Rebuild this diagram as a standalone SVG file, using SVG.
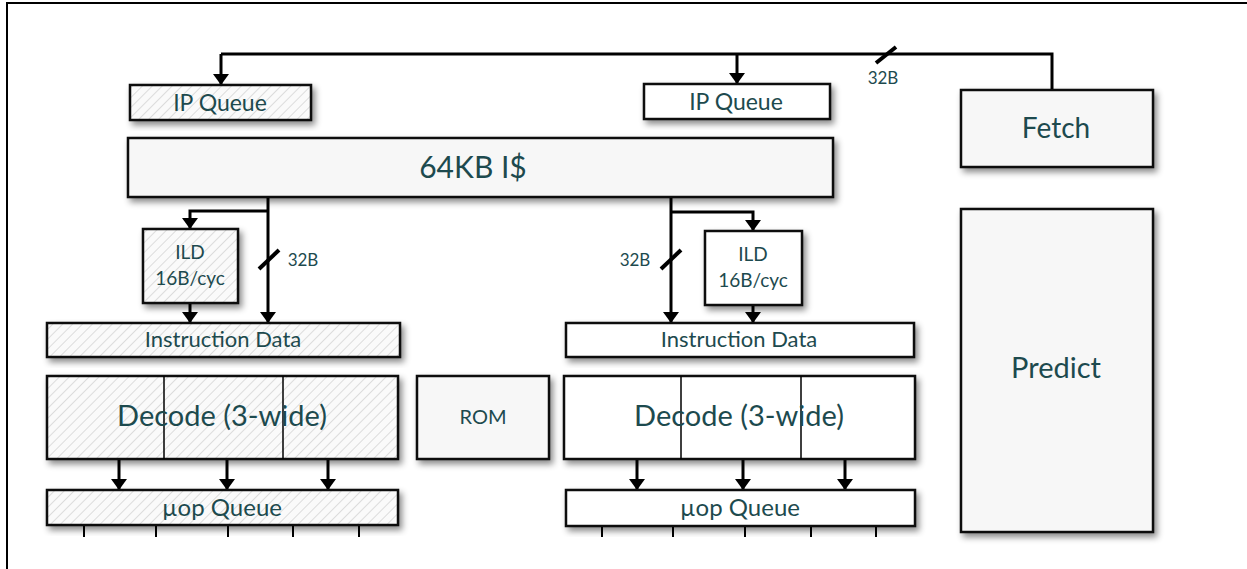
<svg xmlns="http://www.w3.org/2000/svg" width="1247" height="569" viewBox="0 0 1247 569">
<defs>
<style>
.box{stroke:#111;stroke-width:2.5;filter:url(#sh)}
.hatch{fill:url(#hp)}
.grey{fill:#f7f7f7}
.white{fill:#fff}
.t{font-family:Lato,"Open Sans",sans-serif;fill:#1d4a4e;text-anchor:middle}
.c{fill:none;stroke:#000;stroke-width:3}
.sl{fill:none;stroke:#000;stroke-width:4}
.ar{fill:none;stroke:#000;stroke-width:3;marker-end:url(#ah)}
.thin{fill:none;stroke:#000;stroke-width:1.5}
.tick{fill:none;stroke:#000;stroke-width:2}
</style>
<pattern id="hp" patternUnits="userSpaceOnUse" width="7" height="7" patternTransform="rotate(45)">
<rect width="7" height="7" fill="#fafafa"/>
<line x1="0" y1="0" x2="0" y2="7" stroke="#c8c8c8" stroke-width="1.2"/>
</pattern>
<filter id="sh" x="-10%" y="-10%" width="130%" height="140%">
<feDropShadow dx="3" dy="4" stdDeviation="3" flood-color="#000" flood-opacity="0.45"/>
</filter>
<marker id="ah" markerUnits="userSpaceOnUse" markerWidth="12" markerHeight="18" refX="11" refY="8" orient="auto">
<path d="M0,0 L11,8 L0,16 Z" fill="#000"/>
</marker>
</defs>
<rect width="1247" height="569" fill="#fff"/>
<path d="M7,569 V3 H1247" fill="none" stroke="#000" stroke-width="2"/>

<g id="connectors">
<path class="c" d="M221,54 H1052 V90"/>
<path class="ar" d="M221,54 V85"/>
<path class="ar" d="M737,54 V84"/>
<line class="sl" x1="876" y1="63" x2="896" y2="47"/>
<text class="t" x="883" y="84" font-size="17">32B</text>

<path class="ar" d="M268,197 V323"/>
<path class="ar" d="M268,211 H190 V229"/>
<path class="ar" d="M190,303 V323"/>
<line class="sl" x1="259" y1="269" x2="279" y2="250"/>
<text class="t" x="303" y="266" font-size="17">32B</text>

<path class="ar" d="M671,197 V323"/>
<path class="ar" d="M671,212 H753 V231"/>
<path class="ar" d="M753,305 V323"/>
<line class="sl" x1="661" y1="269" x2="681" y2="250"/>
<text class="t" x="635" y="266" font-size="17">32B</text>

<path class="ar" d="M119,459 V490"/>
<path class="ar" d="M227,459 V490"/>
<path class="ar" d="M328,459 V490"/>
<path class="ar" d="M637,459 V490"/>
<path class="ar" d="M743,459 V490"/>
<path class="ar" d="M845,459 V490"/>

<path class="tick" d="M84,525 V537 M156,525 V537 M228,525 V537 M293,525 V537 M359,525 V537"/>
<path class="tick" d="M602,526 V537 M673,526 V537 M745,526 V537 M811,526 V537 M876,526 V537"/>
</g>

<g id="ipq-left"><rect class="box hatch" x="130" y="85" width="181" height="35"/><text class="t" x="220" y="111" font-size="23">IP Queue</text></g>
<g id="ipq-right"><rect class="box white" x="644" y="84" width="186" height="35"/><text class="t" x="736" y="110" font-size="23">IP Queue</text></g>
<g id="icache"><rect class="box grey" x="128" y="138" width="705" height="59"/><text class="t" x="473" y="178" font-size="30">64KB I$</text></g>
<g id="fetch"><rect class="box grey" x="961" y="90" width="192" height="77"/><text class="t" x="1056" y="138" font-size="28">Fetch</text></g>
<g id="predict"><rect class="box grey" x="961" y="209" width="192" height="323"/><text class="t" x="1056" y="378" font-size="29">Predict</text></g>

<g id="ild-left"><rect class="box hatch" x="143" y="229" width="95" height="74"/><text class="t" x="190" y="259" font-size="19">ILD</text><text class="t" x="190" y="285" font-size="19">16B/cyc</text></g>
<g id="ild-right"><rect class="box white" x="705" y="231" width="97" height="74"/><text class="t" x="753" y="261" font-size="19">ILD</text><text class="t" x="753" y="287" font-size="19">16B/cyc</text></g>

<g id="idata-left"><rect class="box hatch" x="47" y="323" width="353" height="34"/><text class="t" x="223" y="347" font-size="22">Instruction Data</text></g>
<g id="idata-right"><rect class="box white" x="566" y="323" width="348" height="34"/><text class="t" x="739" y="347" font-size="22">Instruction Data</text></g>

<g id="decode-left"><rect class="box hatch" x="47" y="376" width="351" height="83"/><path class="thin" d="M164,376 V459 M283,376 V459"/><text class="t" x="222" y="426" font-size="29">Decode (3-wide)</text></g>
<g id="rom"><rect class="box grey" x="417" y="376" width="132" height="83"/><text class="t" x="483" y="424" font-size="20">ROM</text></g>
<g id="decode-right"><rect class="box white" x="564" y="376" width="351" height="83"/><path class="thin" d="M681,376 V459 M801,376 V459"/><text class="t" x="739" y="426" font-size="29">Decode (3-wide)</text></g>

<g id="uopq-left"><rect class="box hatch" x="47" y="490" width="351" height="35"/><text class="t" x="222" y="516" font-size="24">µop Queue</text></g>
<g id="uopq-right"><rect class="box white" x="566" y="490" width="349" height="36"/><text class="t" x="740" y="516" font-size="24">µop Queue</text></g>
</svg>
